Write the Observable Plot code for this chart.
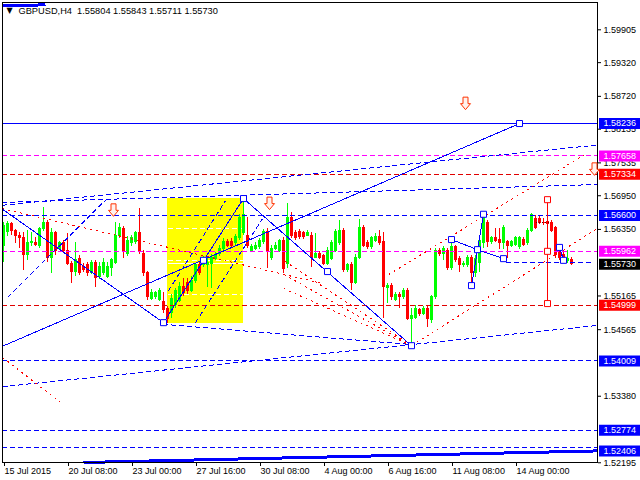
<!DOCTYPE html>
<html><head><meta charset="utf-8">
<script src="https://cdn.jsdelivr.net/npm/d3@7"></script>
<script src="https://cdn.jsdelivr.net/npm/@observablehq/plot@0.6"></script>
<style>html,body{margin:0;padding:0;background:#fff}svg{display:block}</style>
</head><body><div id="chart"></div>
<script>
// ---------- data ----------
const symbolName = "GBPUSD,H4";
const lastBar = [1.55804, 1.55843, 1.55711, 1.55730];

const open = [1.5606,1.5630,1.5644,1.5633,1.5624,1.5619,1.5589,1.5610,1.5610,1.5605,
1.5635,1.5647,1.5585,1.5628,1.5601,1.5610,1.5597,1.5574,1.5560,1.5583,
1.5569,1.5571,1.5558,1.5576,1.5551,1.5557,1.5551,1.5567,1.5576,1.5624,
1.5635,1.5592,1.5610,1.5612,1.5628,1.5592,1.5557,1.5512,1.5514,1.5510,
1.5505,1.5494,1.5487,1.5500,1.5508,1.5532,1.5540,1.5526,1.5544,1.5571,
1.5571,1.5571,1.5574,1.5583,1.5592,1.5601,1.5612,1.5612,1.5610,1.5619,
1.5628,1.5624,1.5597,1.5601,1.5603,1.5612,1.5630,1.5585,1.5601,1.5597,
1.5615,1.5574,1.5656,1.5628,1.5630,1.5628,1.5624,1.5624,1.5585,1.5592,
1.5587,1.5574,1.5583,1.5597,1.5610,1.5633,1.5562,1.5571,1.5540,1.5585,
1.5638,1.5610,1.5603,1.5615,1.5621,1.5612,1.5530,1.5535,1.5510,1.5519,
1.5514,1.5526,1.5476,1.5478,1.5491,1.5485,1.5494,1.5473,1.5514,1.5597,
1.5592,1.5597,1.5567,1.5603,1.5583,1.5571,1.5571,1.5585,1.5558,1.5576,
1.5610,1.5647,1.5612,1.5619,1.5617,1.5610,1.5612,1.5606,1.5608,1.5603,
1.5617,1.5610,1.5633,1.5654,1.5654,1.5647,1.5649,1.5647,1.5637,1.5601,
1.5589,1.5578,1.55804];
const high = [1.5647,1.5649,1.5647,1.5635,1.5630,1.5630,1.5633,1.5630,1.5621,1.5638,
1.5674,1.5651,1.5637,1.5631,1.5614,1.5615,1.5628,1.5578,1.5612,1.5589,
1.5574,1.5576,1.5580,1.5580,1.5576,1.5583,1.5576,1.5583,1.5647,1.5646,
1.5640,1.5622,1.5624,1.5631,1.5672,1.5597,1.5560,1.5528,1.5524,1.5530,
1.5523,1.5498,1.5519,1.5530,1.5540,1.5548,1.5548,1.5551,1.5574,1.5576,
1.5587,1.5583,1.5590,1.5594,1.5606,1.5619,1.5617,1.5619,1.5626,1.5662,
1.5690,1.5656,1.5608,1.5612,1.5619,1.5635,1.5637,1.5606,1.5612,1.5617,
1.5621,1.5681,1.5665,1.5633,1.5635,1.5631,1.5633,1.5630,1.5628,1.5596,
1.5590,1.5603,1.5615,1.5635,1.5651,1.5637,1.5574,1.5576,1.5590,1.5653,
1.5642,1.5615,1.5622,1.5628,1.5633,1.5630,1.5539,1.5539,1.5523,1.5523,
1.5530,1.5530,1.5494,1.5500,1.5494,1.5498,1.5498,1.5517,1.5601,1.5601,
1.5605,1.5601,1.5617,1.5606,1.5587,1.5578,1.5589,1.5589,1.5589,1.5622,
1.5663,1.5651,1.5622,1.5637,1.5637,1.5642,1.5615,1.5615,1.5622,1.5622,
1.5621,1.5637,1.5663,1.5660,1.5660,1.5654,1.5651,1.5651,1.5640,1.5605,
1.5597,1.5597,1.55843];
const low = [1.5576,1.5622,1.5624,1.5610,1.5601,1.5562,1.5580,1.5605,1.5605,1.5601,
1.5631,1.5576,1.5557,1.5589,1.5597,1.5594,1.5571,1.5539,1.5551,1.5553,
1.5558,1.5551,1.5555,1.5532,1.5546,1.5553,1.5548,1.5551,1.5573,1.5619,
1.5583,1.5587,1.5605,1.5608,1.5590,1.5551,1.5508,1.5508,1.5510,1.5507,
1.5485,1.5468,1.5476,1.5494,1.5505,1.5516,1.5519,1.5523,1.5539,1.5553,
1.5567,1.5532,1.5530,1.5580,1.5587,1.5597,1.5603,1.5603,1.5606,1.5615,
1.5624,1.5601,1.5594,1.5597,1.5599,1.5608,1.5565,1.5580,1.5597,1.5594,
1.5557,1.5565,1.5619,1.5615,1.5617,1.5617,1.5622,1.5567,1.5583,1.5581,
1.5571,1.5571,1.5580,1.5594,1.5606,1.5558,1.5558,1.5526,1.5537,1.5581,
1.5603,1.5599,1.5599,1.5612,1.5606,1.5476,1.5503,1.5508,1.5507,1.5494,
1.5510,1.5473,1.5428,1.5475,1.5480,1.5482,1.5460,1.5468,1.5510,1.5587,
1.5580,1.5562,1.5562,1.5576,1.5558,1.5567,1.5567,1.5535,1.5549,1.5558,
1.5601,1.5603,1.5608,1.5612,1.5599,1.5599,1.5583,1.5603,1.5605,1.5599,
1.5605,1.5606,1.5630,1.5635,1.5644,1.5642,1.5638,1.5630,1.5583,1.5580,
1.5576,1.5574,1.55711];
const close = [1.5642,1.5644,1.5633,1.5624,1.5619,1.5589,1.5610,1.5612,1.5608,1.5635,
1.5647,1.5585,1.5628,1.5597,1.5610,1.5597,1.5574,1.5560,1.5580,1.5557,
1.5562,1.5558,1.5576,1.5549,1.5569,1.5576,1.5569,1.5580,1.5624,1.5637,
1.5594,1.5615,1.5619,1.5628,1.5597,1.5557,1.5514,1.5521,1.5521,1.5526,
1.5491,1.5476,1.5512,1.5526,1.5532,1.5521,1.5526,1.5544,1.5571,1.5558,
1.5583,1.5576,1.5585,1.5589,1.5601,1.5612,1.5606,1.5606,1.5621,1.5656,
1.5660,1.5606,1.5603,1.5606,1.5615,1.5630,1.5594,1.5601,1.5606,1.5614,
1.5565,1.5656,1.5624,1.5619,1.5621,1.5621,1.5628,1.5585,1.5592,1.5585,
1.5574,1.5597,1.5610,1.5630,1.5633,1.5562,1.5571,1.5540,1.5585,1.5638,
1.5606,1.5603,1.5619,1.5621,1.5610,1.5532,1.5535,1.5514,1.5519,1.5514,
1.5526,1.5476,1.5480,1.5494,1.5484,1.5494,1.5475,1.5514,1.5597,1.5592,
1.5601,1.5567,1.5603,1.5580,1.5571,1.5574,1.5585,1.5558,1.5583,1.5615,
1.5658,1.5612,1.5619,1.5615,1.5610,1.5638,1.5606,1.5612,1.5619,1.5619,
1.5608,1.5633,1.5660,1.5638,1.5647,1.5646,1.5644,1.5633,1.5589,1.5585,
1.5580,1.5583,1.55730];

const timeTickBars = [0,16,32,48,64,80,96,112,128];
const timeTickLabels = ["15 Jul 2015","20 Jul 08:00","23 Jul 00:00","27 Jul 16:00","30 Jul 08:00","4 Aug 00:00","6 Aug 16:00","11 Aug 08:00","14 Aug 00:00"];
const priceTicks = [1.59905,1.59320,1.58720,1.58135,1.57535,1.56950,1.56350,1.55165,1.54565,1.53380,1.52195];

// horizontal levels
const blueSolidLevels = [1.58236];
const blueDashedLevels = [1.56600,1.54009,1.52774,1.52460];
const redDashedLevels = [1.57334,1.54999];
const magentaDashedLevels = [1.57658,1.55962];

// price labels on the right scale
const blueLabels = [1.58236,1.56600,1.54009,1.52774,1.52406];
const magentaLabels = [1.57658,1.55962];
const redLabels = [1.57334,1.54999];
const bidLabel = [1.55730];

// drawn objects: [bar1, price1, bar2, price2]
const blueSolidSegments = [
  [-0.25,1.5427,129,1.58236],
  [-0.25,1.5671,40,1.5469],
  [40,1.5469,60,1.5690],
  [60,1.5690,102,1.5428],
  [112,1.5617,118.5,1.5599],
  [118.5,1.5599,125,1.5583],
  [117,1.5535,120,1.5662],
  [139,1.5603,140,1.5580]
];
const blueDashedSegments = [
  [-0.25,1.5678,148,1.5785],
  [-0.25,1.5683,148.5,1.5715],
  [40,1.5466,102,1.5430],
  [-0.25,1.5355,148.5,1.5464],
  [1,1.5514,25.5,1.5687],
  [41.25,1.5526,55.5,1.5686],
  [48,1.5469,64.75,1.5654],
  [125.5,1.5576,147,1.5576]
];
const redDashedSegments = [
  [-0.25,1.5672,79,1.5540],
  [102,1.5428,70,1.5580],
  [102,1.5428,70,1.5555],
  [102,1.5428,70,1.5530],
  [95,1.5549,145,1.5767],
  [102,1.5428,148.5,1.5637],
  [-0.25,1.5407,14.25,1.5327]
];
const thickBlueSegments = [
  [20,1.5220,148.5,1.52406],
  [-0.25,1.6033,10.5,1.6035]
];
const darkDottedSegments = [[133,1.5647,136.75,1.5647]];
const redVertical = [[136,1.5503,136,1.5688]];
const redVerticalPoints = [[136,1.5688],[136,1.5596],[136,1.5503]];
const bluePoints = [[40,1.5469],[50,1.5580],[60,1.5690],[81,1.5560],[102,1.5428],[112,1.5617],[117,1.5535],[118.5,1.5599],[120,1.5662],[125,1.5583],[129,1.58236],[139,1.5603],[140,1.5580]];
const sellArrows = [[27.5,1.5669],[66.5,1.5681],[115.5,1.5859],[147.75,1.5742]];
const yellowZone = [[41,60,1.5468,1.5690]];
const zoneDashedLevels = [1.5637,1.5580,1.5519];
const zoneSolidLevels = [1.5574];

// ---------- build ----------
const candles = open.map((o, i) => ({i, o, h: high[i], l: low[i], c: close[i]}));
const up = candles.filter(d => d.c >= d.o);
const down = candles.filter(d => d.c < d.o);
const fmt = d => d.toFixed(5);

const boxSymbol = {draw(ctx) { ctx.rect(-20.5, -5.5, 41, 11); }};
const arrowSymbol = {draw(ctx) {
  ctx.moveTo(-2.5, -6.5); ctx.lineTo(2.5, -6.5); ctx.lineTo(2.5, 0);
  ctx.lineTo(5, 0); ctx.lineTo(0, 6); ctx.lineTo(-5, 0); ctx.lineTo(-2.5, 0); ctx.closePath();
}};

const seg = (data, o) => Plot.link(data, {x1: d => d[0], y1: d => d[1], x2: d => d[2], y2: d => d[3], shapeRendering: "crispEdges", ...o});
const zoneSeg = lv => lv.map(p => [yellowZone[0][0], p, yellowZone[0][1], p]);

const BLUE = "#0000ff", RED = "#ff0000", MAG = "#ff00ff", GREEN = "#00ff00";

const chart = Plot.plot({
  width: 640, height: 480,
  marginLeft: 2, marginRight: 43, marginTop: 2, marginBottom: 18,
  style: {fontFamily: "'Liberation Sans', Arial, sans-serif", fontSize: "9px", background: "white", overflow: "visible"},
  x: {type: "linear", domain: [-0.25, 148.5]},
  y: {type: "linear", domain: [1.521998, 1.603911]},
  marks: [
    Plot.rect(yellowZone, {x1: d => d[0], x2: d => d[1], y1: d => d[2], y2: d => d[3], fill: "#ffff00", shapeRendering: "crispEdges"}),
    seg(zoneSeg(zoneDashedLevels), {stroke: "white", strokeDasharray: "5,3"}),
    seg(zoneSeg(zoneSolidLevels), {stroke: "white"}),
    // candles
    Plot.ruleX(up, {x: "i", y1: "l", y2: "h", stroke: GREEN, shapeRendering: "crispEdges"}),
    Plot.ruleX(down, {x: "i", y1: "l", y2: "h", stroke: RED, shapeRendering: "crispEdges"}),
    Plot.rect(up, {x1: d => d.i - 0.375, x2: d => d.i + 0.375, y1: "o", y2: "c", fill: GREEN, insetTop: -0.5, insetBottom: -0.5, shapeRendering: "crispEdges"}),
    Plot.rect(down, {x1: d => d.i - 0.375, x2: d => d.i + 0.375, y1: "o", y2: "c", fill: RED, insetTop: -0.5, insetBottom: -0.5, shapeRendering: "crispEdges"}),
    // levels
    Plot.ruleY(blueSolidLevels, {stroke: BLUE, shapeRendering: "crispEdges"}),
    Plot.ruleY(blueDashedLevels, {stroke: BLUE, strokeDasharray: "5,3", shapeRendering: "crispEdges"}),
    Plot.ruleY(redDashedLevels, {stroke: "#e00000", strokeDasharray: "5,3", shapeRendering: "crispEdges"}),
    Plot.ruleY(magentaDashedLevels, {stroke: MAG, strokeDasharray: "5,3", shapeRendering: "crispEdges"}),
    // drawn objects
    seg(thickBlueSegments, {stroke: BLUE, strokeWidth: 3}),
    seg(blueDashedSegments, {stroke: BLUE, strokeDasharray: "5,3"}),
    seg(redDashedSegments, {stroke: RED, strokeDasharray: "2,4"}),
    seg(darkDottedSegments, {stroke: "#600000", strokeDasharray: "1,2"}),
    seg(blueSolidSegments, {stroke: BLUE}),
    seg(redVertical, {stroke: RED}),
    Plot.dot(bluePoints, {x: d => d[0], y: d => d[1], symbol: "square", r: 3.4, stroke: BLUE, fill: "white", strokeWidth: 1}),
    Plot.dot(redVerticalPoints, {x: d => d[0], y: d => d[1], symbol: "square", r: 3.4, stroke: RED, fill: "white", strokeWidth: 1}),
    // frame & axes
    Plot.frame({stroke: "black"}),
    Plot.axisY(priceTicks, {anchor: "right", tickSize: 3, tickPadding: 3, tickFormat: fmt, label: null, fill: "black", stroke: "black"}),
    Plot.axisX(timeTickBars, {anchor: "bottom", tickSize: 4, tickPadding: 1, tickFormat: d => timeTickLabels[timeTickBars.indexOf(d)], textAnchor: "start", dx: 1, label: null, fill: "black", stroke: "black"}),
    // right labels
    Plot.dot(blueLabels, {y: d => d, frameAnchor: "right", dx: 22, symbol: boxSymbol, fill: BLUE}),
    Plot.dot(magentaLabels, {y: d => d, frameAnchor: "right", dx: 22, symbol: boxSymbol, fill: MAG}),
    Plot.dot(redLabels, {y: d => d, frameAnchor: "right", dx: 22, symbol: boxSymbol, fill: RED}),
    Plot.dot(bidLabel, {y: d => d, frameAnchor: "right", dx: 22, symbol: boxSymbol, fill: "black"}),
    Plot.text([...blueLabels, ...magentaLabels, ...redLabels, ...bidLabel], {y: d => d, text: fmt, frameAnchor: "right", dx: 6, textAnchor: "start", fill: "white"}),
    // sell arrows
    Plot.dot(sellArrows, {x: d => d[0], y: d => d[1], symbol: arrowSymbol, stroke: "#ff3300", fill: "#fff2ee", strokeWidth: 1}),
    // title
    Plot.text(["\u25BC"], {text: d => d, frameAnchor: "top-left", dx: 4, dy: 5, lineAnchor: "top", textAnchor: "start", fontSize: 8, fontFamily: "DejaVu Sans", fill: "black"}),
    Plot.text([`${symbolName}  ${lastBar.map(fmt).join(" ")}`], {text: d => d, frameAnchor: "top-left", dx: 16, dy: 5, lineAnchor: "top", textAnchor: "start", fontSize: 9.25, fill: "black"})
  ]
});
document.getElementById("chart").append(chart);
</script>
</body></html>
